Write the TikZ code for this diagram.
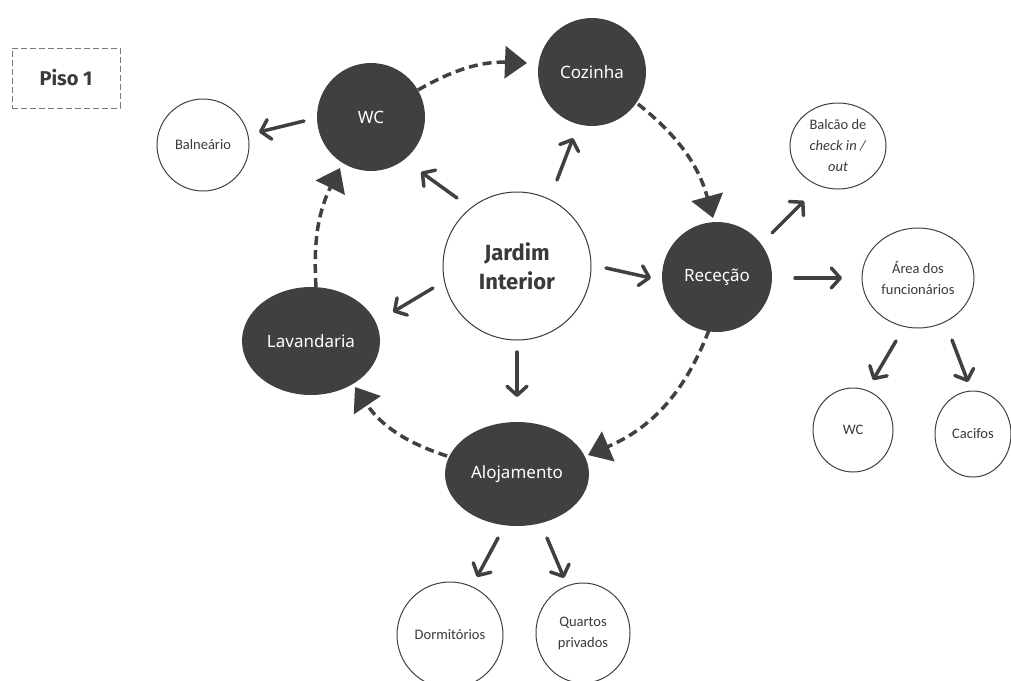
\documentclass[tikz,border=0pt]{standalone}
\usepackage{fontspec}
\setmainfont{Noto Sans}
\newfontfamily\darkf{Noto Sans}
\newfontfamily\smallf{Carlito}
\newfontfamily\titlef{Fira Sans}
\usetikzlibrary{arrows.meta,shapes.geometric,calc}
\definecolor{dk}{HTML}{404040}
\definecolor{tx}{HTML}{3A3A3A}
\definecolor{pisogray}{HTML}{7A7A7A}
\begin{document}
\begin{tikzpicture}[x=1pt,y=-1pt,
  darknode/.style={circle, fill=dk, draw=none, inner sep=0pt, text=white,
    font=\darkf\fontsize{17}{20}\selectfont},
  darkell/.style={ellipse, fill=dk, draw=none, inner sep=0pt, text=white,
    font=\darkf\fontsize{17}{20}\selectfont},
  whitenode/.style={ellipse, draw=dk, line width=1pt, fill=white, inner sep=0pt,
    text=tx, align=center, font=\smallf\fontsize{14.5}{21}\selectfont},
  arr/.style={draw=dk, line width=3.5pt, line cap=round,
    -{Straight Barb[length=9pt,width=20pt,round]}},
  dasharr/.style={draw=dk, line width=3.5pt, dash pattern=on 9pt off 5pt,
    -{Triangle[length=22pt,width=32pt]}}
]
\useasboundingbox (0,0) rectangle (1011,680);

% title box
\node[draw=pisogray, line width=1pt, dash pattern=on 6pt off 3pt,
  minimum width=108pt, minimum height=60pt, inner sep=0pt, text=tx,
  font=\titlef\bfseries\fontsize{20}{24}\selectfont] (piso) at (66,78) {Piso 1};

% dark nodes
\node[darknode, minimum size=108pt] (wc) at (371,117) {WC};
\node[darknode, minimum size=108pt] (coz) at (592,72) {Cozinha};
\node[darknode, minimum size=110pt] (rec) at (717,277) {Receção};
\node[darkell, minimum width=138pt, minimum height=108pt] (lav) at (311,341) {Lavandaria};
\node[darkell, minimum width=144pt, minimum height=104pt] (alo) at (517,474) {Alojamento};

% centre
\node[circle, draw=tx, line width=1pt, fill=white, minimum size=148pt, inner sep=0pt,
  align=center, text=tx, font=\titlef\bfseries\fontsize{22}{29}\selectfont]
  (j) at (517,266) {Jardim\\Interior};

% white nodes
\node[whitenode, minimum width=92pt, minimum height=92pt] (bal) at (203,145) {Balneário};
\node[whitenode, minimum width=96pt, minimum height=86pt] (chk) at (838,146)
  {Balcão de\\\textit{check in /}\\\textit{out}};
\node[whitenode, minimum width=112pt, minimum height=100pt] (area) at (918,278)
  {Área dos\\funcionários};
\node[whitenode, minimum width=80pt, minimum height=84pt] (wc2) at (853,430) {WC};
\node[whitenode, minimum width=76pt, minimum height=86pt] (caf) at (973,434) {Cacifos};
\node[whitenode, minimum width=106pt, minimum height=106pt] (dorm) at (450,635) {Dormitórios};
\node[whitenode, minimum width=94pt, minimum height=100pt] (quar) at (583,633) {Quartos\\privados};

% solid arrows
\draw[arr] ($(j)+(-60,-68)$) -- ($(wc)+(50,55)$);
\draw[arr] ($(j)+(40,-86)$) -- ($(coz)+(-19,66)$);
\draw[arr] ($(j)+(-84,22)$) -- ($(lav)+(82,-29)$);
\draw[arr] ($(j)+(0,86)$) -- ($(alo)+(0,-77)$);
\draw[arr] ($(j)+(89,2)$) -- ($(rec)+(-66,1)$);
\draw[arr] ($(wc)+(-67,4)$) -- ($(bal)+(56,-13)$);
\draw[arr] ($(rec)+(55,-44)$) -- ($(chk)+(-34,55)$);
\draw[arr] ($(rec)+(78,1)$) -- ($(area)+(-76,0)$);
\draw[arr] ($(area)+(-22,63)$) -- ($(wc2)+(20,-50)$);
\draw[arr] ($(area)+(34,62)$) -- ($(caf)+(-5,-52)$);
\draw[arr] ($(alo)+(-19,64)$) -- ($(dorm)+(27,-58)$);
\draw[arr] ($(alo)+(30,64)$) -- ($(quar)+(-19,-55)$);

% dashed cycle
\draw[dasharr] ($(wc)+(47,-27)$) to[bend left=16] ($(coz)+(-65,-9)$);
\draw[dasharr] ($(coz)+(46,32)$) to[bend left=18] ($(rec)+(-4,-59)$);
\draw[dasharr] ($(rec)+(-8,53)$) to[bend left=23] ($(alo)+(71,-19)$);
\draw[dasharr] ($(alo)+(-70,-18)$) to[bend left=19] ($(lav)+(44,46)$);
\draw[dasharr] ($(lav)+(5,-54)$) to[bend left=15] ($(wc)+(-31,51)$);
\end{tikzpicture}
\end{document}
